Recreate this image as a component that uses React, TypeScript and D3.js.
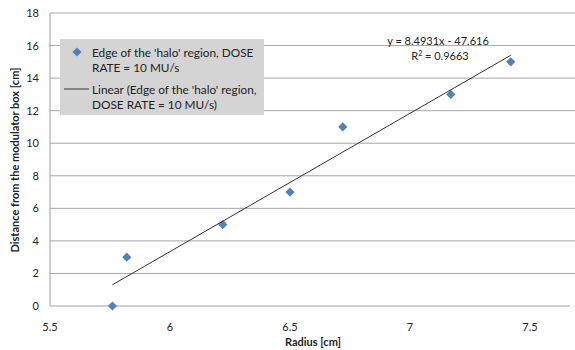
import React from "react";
import * as d3 from "d3";

const radius = [5.76, 5.82, 6.22, 6.5, 6.72, 7.17, 7.42];
const distance = [0, 3, 5, 7, 11, 13, 15];
const xTicks = [5.5, 6, 6.5, 7, 7.5];
const yTicks = [0, 2, 4, 6, 8, 10, 12, 14, 16, 18];
const slope = 8.4931;
const intercept = -47.616;
const equationLabel = "y = 8.4931x - 47.616";
const r2Label = "0.9663";
const legendSeries = ["Edge of the 'halo' region, DOSE", "RATE = 10 MU/s"];
const legendTrend = ["Linear (Edge of the 'halo' region,", "DOSE RATE = 10 MU/s)"];

const W = 575;
const H = 350;
const font = "Lato, 'Open Sans', sans-serif";

export default function App() {
  const x = d3.scaleLinear().domain([5.5, 7.6667]).range([50, 570]);
  const y = d3.scaleLinear().domain([0, 18]).range([306, 13]);
  const xMin = d3.min(radius) as number;
  const xMax = d3.max(radius) as number;
  const trend = d3
    .line<number>()
    .x((d) => x(d))
    .y((d) => y(slope * d + intercept));
  const s = 4.6;
  const diamond = `M0,${-s}L${s},0L0,${s}L${-s},0Z`;

  return (
    <svg width={W} height={H} style={{ position: "absolute", left: 0, top: 0, background: "#fff" }}>
      {yTicks.map((t) => (
        <g key={t}>
          {t > 0 && (
            <line x1={50} x2={575} y1={y(t)} y2={y(t)} stroke="#a6a6a6" strokeWidth={1} />
          )}
          <text x={39} y={y(t) + 4} textAnchor="end" fontSize={11} fontFamily={font} fill="#222">
            {t}
          </text>
        </g>
      ))}
      <line x1={50} x2={50} y1={13} y2={306} stroke="#a0a0a0" strokeWidth={1} />
      <line x1={50} x2={570} y1={306} y2={306} stroke="#a0a0a0" strokeWidth={1} />
      {xTicks.map((t) => (
        <text key={t} x={x(t)} y={331} textAnchor="middle" fontSize={11} fontFamily={font} fill="#222">
          {t}
        </text>
      ))}
      <text x={313} y={346} textAnchor="middle" fontSize={11} fontWeight="bold" fontFamily={font} fill="#222">
        Radius  [cm]
      </text>
      <text
        transform={`translate(19,160) rotate(-90)`}
        textAnchor="middle"
        fontSize={11}
        fontWeight="bold"
        fontFamily={font}
        fill="#222"
      >
        Distance from the modulator box [cm]
      </text>

      <rect x={60} y={39} width={204} height={76} fill="#d4d4d4" />
      <path d={diamond} transform={`translate(77,52)`} fill="#4f81bd" />
      <line x1={64} x2={89} y1={89} y2={89} stroke="#333" strokeWidth={1} />
      {legendSeries.map((t, i) => (
        <text key={t} x={92} y={56.5 + i * 15} fontSize={11.8} fontFamily={font} fill="#222">
          {t}
        </text>
      ))}
      {legendTrend.map((t, i) => (
        <text key={t} x={92} y={93.5 + i * 15} fontSize={11.8} fontFamily={font} fill="#222">
          {t}
        </text>
      ))}

      {radius.map((r, i) => (
        <path key={i} d={diamond} transform={`translate(${x(r)},${y(distance[i])})`} fill="#4f81bd" />
      ))}
      <path d={trend([xMin, xMax]) as string} stroke="#333" strokeWidth={1} fill="none" />

      <text x={438} y={45} textAnchor="middle" fontSize={11} fontFamily={font} fill="#222">
        {equationLabel}
      </text>
      <text x={440} y={60} textAnchor="middle" fontSize={11} fontFamily={font} fill="#222">
        R<tspan fontSize={7} dy={-4}>2</tspan>
        <tspan dy={4}> = {r2Label}</tspan>
      </text>
    </svg>
  );
}
